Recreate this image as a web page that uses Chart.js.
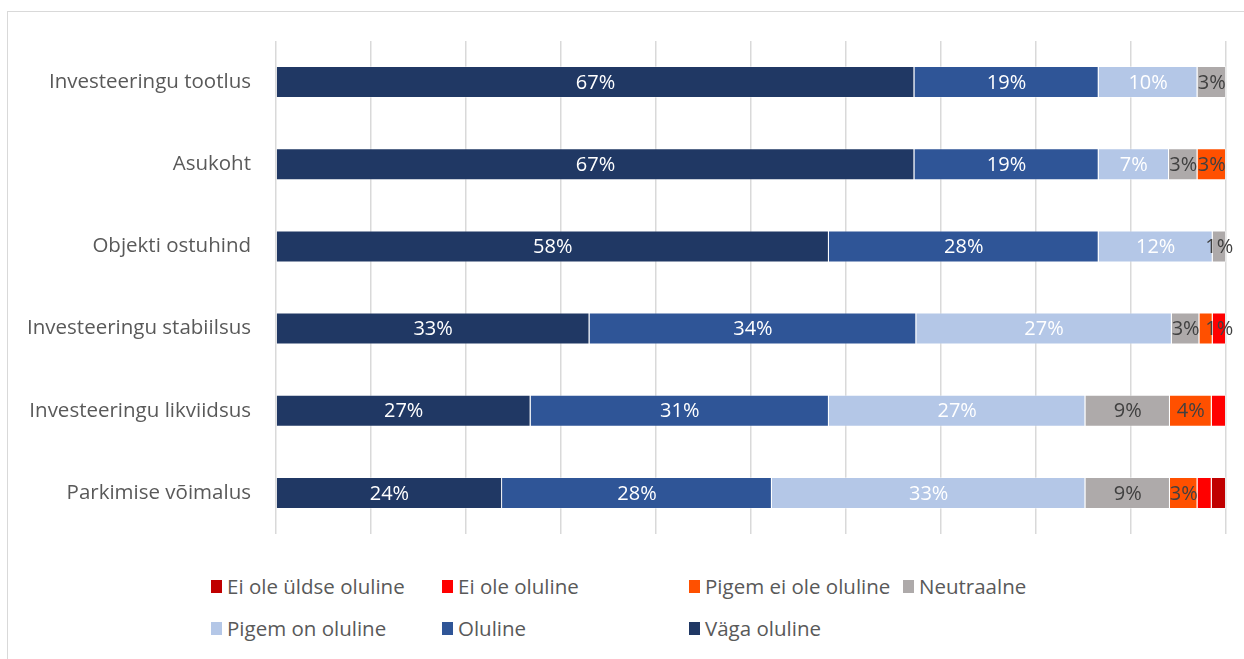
<!DOCTYPE html>
<html>
<head>
<meta charset="utf-8">
<script src="https://cdn.jsdelivr.net/npm/chart.js@4.4.0/dist/chart.umd.min.js"></script>
<style>
  body { margin: 0; background: #fff; font-family: 'Open Sans', sans-serif; }
  #wrap { position: relative; width: 1244px; height: 659px; overflow: hidden; }
  #frame { position: absolute; left: 7px; top: 11px; width: 1300px; height: 700px; border: 1px solid #d9d9d9; }
  #box { position: absolute; left: 0; top: 0; width: 1244px; height: 560px; }
  #legend {
    position: absolute; left: 211px; top: 573px;
    display: grid; grid-template-columns: 231px 247px 214px auto; row-gap: 16px;
    font-size: 20.5px; color: #595959; line-height: 26px;
  }
  #legend span.item { display: flex; align-items: center; white-space: nowrap; }
  #legend i { display: inline-block; width: 11px; height: 13px; margin-right: 5px; }
</style>
</head>
<body>
<div id="wrap">
  <div id="frame"></div>
  <div id="box"><canvas id="chart"></canvas></div>
  <div id="legend"></div>
</div>
<script>
const categories = ['Investeeringu tootlus', 'Asukoht', 'Objekti ostuhind', 'Investeeringu stabiilsus', 'Investeeringu likviidsus', 'Parkimise võimalus'];

// share of answers, %
const vagaOluline       = [67.2, 67.2, 58.2, 33.0, 26.8, 23.8];
const oluline           = [19.4, 19.4, 28.4, 34.4, 31.4, 28.4];
const pigemOnOluline    = [10.4, 7.4, 12.0, 26.9, 27.0, 33.0];
const neutraalne        = [3.0, 3.0, 1.4, 2.9, 8.9, 8.9];
const pigemEiOleOluline = [0, 3.0, 0, 1.4, 4.4, 2.9];
const eiOleOluline      = [0, 0, 0, 1.4, 1.5, 1.5];
const eiOleUldseOluline = [0, 0, 0, 0, 0, 1.5];

// segments too thin to carry their own label
const unlabeled = {
  'Pigem ei ole oluline': [3],
  'Ei ole oluline': [4, 5],
  'Ei ole üldse oluline': [5]
};

const series = [
  { label: 'Väga oluline', data: vagaOluline, color: '#203864', text: '#ffffff' },
  { label: 'Oluline', data: oluline, color: '#2f5597', text: '#ffffff' },
  { label: 'Pigem on oluline', data: pigemOnOluline, color: '#b4c7e7', text: '#ffffff' },
  { label: 'Neutraalne', data: neutraalne, color: '#aeaaaa', text: '#404040' },
  { label: 'Pigem ei ole oluline', data: pigemEiOleOluline, color: '#ff5000', text: '#404040' },
  { label: 'Ei ole oluline', data: eiOleOluline, color: '#ff0000', text: '#404040' },
  { label: 'Ei ole üldse oluline', data: eiOleUldseOluline, color: '#c00000', text: '#404040' }
];

Chart.defaults.font.family = "'Open Sans', sans-serif";
Chart.defaults.color = '#595959';

const segmentLabels = {
  id: 'segmentLabels',
  afterDatasetsDraw(chart) {
    const ctx = chart.ctx;
    ctx.save();
    ctx.font = "20px 'Open Sans'";
    ctx.textAlign = 'center';
    ctx.textBaseline = 'middle';
    chart.data.datasets.forEach((ds, i) => {
      const skip = unlabeled[ds.label] || [];
      chart.getDatasetMeta(i).data.forEach((bar, j) => {
        const v = ds.data[j];
        if (!v || skip.includes(j)) return;
        ctx.fillStyle = ds.labelColor;
        ctx.fillText(Math.round(v) + '%', (bar.x + bar.base) / 2, bar.y + 1);
      });
    });
    ctx.restore();
  }
};

new Chart(document.getElementById('chart'), {
  type: 'bar',
  data: {
    labels: categories,
    datasets: series.map(s => ({
      label: s.label,
      data: s.data.map(v => v || null),
      backgroundColor: s.color,
      borderColor: 'rgba(255,255,255,0.35)',
      borderWidth: 1,
      labelColor: s.text,
      barPercentage: 0.39,
      categoryPercentage: 1
    }))
  },
  options: {
    indexAxis: 'y',
    responsive: true,
    maintainAspectRatio: false,
    animation: false,
    layout: { padding: { top: 41, bottom: 26, right: 18, left: 0 } },
    plugins: { legend: { display: false }, tooltip: { enabled: false } },
    scales: {
      x: {
        stacked: true, min: 0, max: 100,
        ticks: { display: false, stepSize: 10 },
        grid: { color: '#d9d9d9', lineWidth: 1.5, drawTicks: false },
        border: { display: false },
        afterFit: s => { s.height = 0; s.paddingLeft = 0; s.paddingRight = 0; }
      },
      y: {
        stacked: true,
        grid: { display: false, drawTicks: false },
        border: { display: false },
        ticks: { padding: 25, font: { size: 20.5 }, color: '#595959' },
        afterFit: s => { s.width = 276; s.paddingTop = 0; s.paddingBottom = 0; }
      }
    }
  },
  plugins: [segmentLabels]
});

// legend in four columns, listed from the last series to the first
const legend = document.getElementById('legend');
series.slice().reverse().forEach(s => {
  const item = document.createElement('span');
  item.className = 'item';
  const box = document.createElement('i');
  box.style.background = s.color;
  item.appendChild(box);
  item.appendChild(document.createTextNode(s.label));
  legend.appendChild(item);
});
</script>
</body>
</html>
